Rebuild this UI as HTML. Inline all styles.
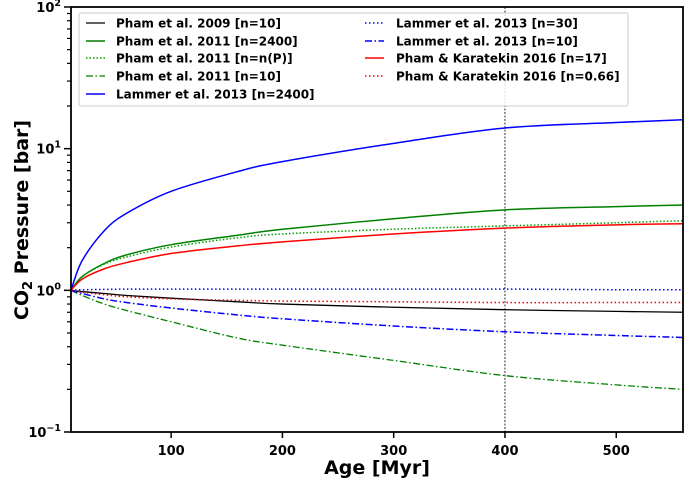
<!DOCTYPE html>
<html><head><meta charset="utf-8"><style>
body{margin:0;background:#fff;}
svg{font-family:"DejaVu Sans","Liberation Sans",sans-serif;font-weight:bold;}
</style></head><body>
<svg id="chart" width="685" height="482" viewBox="0 0 685 482" xmlns="http://www.w3.org/2000/svg">
<g id="grid"></g>
<g id="series"></g>
<g id="axes"></g>
<g id="legend"></g>
</svg>
<script>
const ages=[10,20,40,60,100,160,200,300,400,500,560];
const pham2009_n10=[1,0.98,0.95,0.92,0.88,0.83,0.8,0.76,0.73,0.71,0.7];
const pham2011_n2400=[1,1.25,1.55,1.78,2.1,2.45,2.7,3.2,3.7,3.9,4.0];
const pham2011_nP=[1,1.25,1.53,1.72,2.02,2.35,2.5,2.7,2.85,3.0,3.1];
const pham2011_n10=[1,0.92,0.8,0.72,0.6,0.46,0.41,0.32,0.25,0.215,0.2];
const lammer2013_n2400=[1,1.62,2.64,3.5,5.0,6.9,8.1,10.9,14,15.3,16];
const lammer2013_n30=[1,1.01,1.015,1.02,1.02,1.02,1.02,1.02,1.02,1.01,1.01];
const lammer2013_n10=[1,0.95,0.87,0.82,0.75,0.67,0.63,0.56,0.51,0.48,0.465];
const pk2016_n17=[1,1.2,1.42,1.57,1.82,2.06,2.2,2.5,2.75,2.9,2.95];
const pk2016_n066=[1,0.97,0.93,0.9,0.87,0.85,0.84,0.83,0.82,0.82,0.82];
const xTicks=[100,200,300,400,500];
const yTicks=[0.1,1,10,100];
const yTickLabels=["10","10","10","10"];
const yTickExps=["−1","0","1","2"];
const markerAge=[400];

const L=71,R=683,T=7,B=432,X0=10,X1=560;
const xs=v=>L+(v-X0)/(X1-X0)*(R-L);
const ys=v=>B-(Math.log10(v)+1)/3*(B-T);
const NS="http://www.w3.org/2000/svg";
function mk(tag,attrs,parent){const e=document.createElementNS(NS,tag);for(const k in attrs)e.setAttribute(k,attrs[k]);parent.appendChild(e);return e;}
const gS=document.getElementById('series'),gA=document.getElementById('axes'),gL=document.getElementById('legend'),gG=document.getElementById('grid');

const series=[
 {d:pham2009_n10,c:"#000",dash:"",w:1.3,name:"Pham et al. 2009 [n=10]",key:"pham-2009-n10"},
 {d:pham2011_n2400,c:"#008000",dash:"",w:1.5,name:"Pham et al. 2011 [n=2400]",key:"pham-2011-n2400"},
 {d:pham2011_nP,c:"#00a000",dash:"1.5,2",w:1.5,name:"Pham et al. 2011 [n=n(P)]",key:"pham-2011-nP"},
 {d:pham2011_n10,c:"#008000",dash:"7,2.5,1.5,2.5",w:1.3,name:"Pham et al. 2011 [n=10]",key:"pham-2011-n10"},
 {d:lammer2013_n2400,c:"#0000ff",dash:"",w:1.5,name:"Lammer et al. 2013 [n=2400]",key:"lammer-2013-n2400"},
 {d:lammer2013_n30,c:"#0000ff",dash:"1.5,2.5",w:1.5,name:"Lammer et al. 2013 [n=30]",key:"lammer-2013-n30"},
 {d:lammer2013_n10,c:"#0000ff",dash:"7,2.5,1.5,2.5",w:1.5,name:"Lammer et al. 2013 [n=10]",key:"lammer-2013-n10"},
 {d:pk2016_n17,c:"#ff0000",dash:"",w:1.5,name:"Pham & Karatekin 2016 [n=17]",key:"pk-2016-n17"},
 {d:pk2016_n066,c:"#ff0000",dash:"1.5,2.5",w:1.5,name:"Pham & Karatekin 2016 [n=0.66]",key:"pk-2016-n066"}
];
function pathFor(d){
 const p=ages.map((a,i)=>[xs(a),ys(d[i])]);
 let s="M"+p[0][0]+","+p[0][1];
 for(let i=0;i<p.length-1;i++){
  const p0=p[Math.max(0,i-1)],p1=p[i],p2=p[i+1],p3=p[Math.min(p.length-1,i+2)];
  const c1=[p1[0]+(p2[0]-p0[0])/6,p1[1]+(p2[1]-p0[1])/6];
  const c2=[p2[0]-(p3[0]-p1[0])/6,p2[1]-(p3[1]-p1[1])/6];
  s+=" C"+c1[0]+","+c1[1]+" "+c2[0]+","+c2[1]+" "+p2[0]+","+p2[1];
 }
 return s;
}
markerAge.forEach(a=>{
 const l=mk('line',{x1:xs(a),x2:xs(a),y1:T,y2:B,stroke:"#000","stroke-width":0.8,"stroke-dasharray":"2,1.5"},gG);
 
 
});
series.forEach(s=>{
 const p=mk('path',{d:pathFor(s.d),fill:"none",stroke:s.c,"stroke-width":s.w,"stroke-dasharray":s.dash},gS);
 
 
});
const fr=mk('rect',{x:L,y:T,width:R-L,height:B-T,fill:"none",stroke:"#000","stroke-width":1.8},gA);


xTicks.forEach(t=>{
 const x=xs(t);
 mk('line',{x1:x,x2:x,y1:B,y2:B+6,stroke:"#000","stroke-width":1.5},gA);
 const tx=mk('text',{x:x,y:B+23,"text-anchor":"middle","font-size":13},gA);
 tx.textContent=t;
 
 
});
yTicks.forEach((t,i)=>{
 const y=ys(t);
 mk('line',{x1:L-7,x2:L,y1:y,y2:y,stroke:"#000","stroke-width":1.5},gA);
 const tx=mk('text',{x:L-10,y:y+5,"text-anchor":"end","font-size":13},gA);
 
 
 tx.innerHTML=yTickLabels[i]+'<tspan dy="-6" font-size="9.5">'+yTickExps[i]+'</tspan>';
 if(i<yTicks.length-1){for(let m=2;m<10;m++){const ym=ys(t*m);mk('line',{x1:L-4,x2:L,y1:ym,y2:ym,stroke:"#000","stroke-width":1.2},gA);}}
});
const xl=mk('text',{x:(L+R)/2,y:474,"text-anchor":"middle","font-size":19},gA);
xl.textContent="Age [Myr]";


const yl=mk('text',{x:0,y:0,"text-anchor":"middle","font-size":19,transform:"translate(28,220) rotate(-90)"},gA);
yl.innerHTML='CO<tspan font-size="13" dy="4">2</tspan><tspan dy="-4"> Pressure [bar]</tspan>';


const lb=mk('rect',{x:79,y:13,width:549,height:93,fill:"#fff","fill-opacity":0.85,stroke:"#ccc","stroke-width":1,rx:2},gL);


const rowsY=[23,41,58,76,94];
series.forEach((s,i)=>{
 const col=i<5?0:1,row=i<5?i:i-5;
 const lx=col?365:86,tx=col?396:116,y=rowsY[row];
 const g=mk('g',{},gL);
 
 
 mk('line',{x1:lx,x2:lx+19,y1:y,y2:y,stroke:s.c,"stroke-width":s.w,"stroke-dasharray":s.dash},g);
 const t=mk('text',{x:tx,y:y+4.5,"font-size":12},g);
 t.textContent=s.name;
});
</script>
</body></html>
